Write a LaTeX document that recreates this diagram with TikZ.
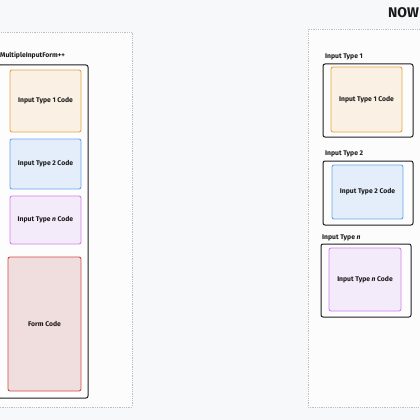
\documentclass[tikz,border=0pt]{standalone}
\usepackage{fontspec}
\setmainfont{Fira Sans}
\begin{document}
\begin{tikzpicture}[x=1pt,y=-1pt,
  every node/.style={font=\bfseries\fontsize{6.8}{7.5}\selectfont, text=black!90},
  container/.style={draw=black!25, densely dotted, line width=0.8pt, fill=white!60!bgcol},
  holder/.style={draw=black!88, line width=1pt, rounded corners=2pt, fill=white!70!bgcol},
  codebox/.style={line width=0.9pt, rounded corners=2pt},
  orangebox/.style={codebox, draw=orgb, fill=orgf},
  bluebox/.style={codebox, draw=blub, fill=bluf},
  purplebox/.style={codebox, draw=purb, fill=purf},
  redbox/.style={codebox, draw=redb, fill=redf},
  lbl/.style={anchor=west, inner sep=0pt}]
\definecolor{bgcol}{HTML}{F7F8FA}
\definecolor{orgb}{HTML}{E9A53F}
\definecolor{orgf}{HTML}{FAF0E4}
\definecolor{blub}{HTML}{6AA6EE}
\definecolor{bluf}{HTML}{E4EEFA}
\definecolor{purb}{HTML}{D580F0}
\definecolor{purf}{HTML}{F4EBFA}
\definecolor{redb}{HTML}{D04A48}
\definecolor{redf}{HTML}{F0DDDD}
\fill[bgcol] (0,0) rectangle (420,420);
\useasboundingbox (0,0) rectangle (420,420);
% left container
\draw[container] (-5,32) rectangle (132,407);
\node[lbl] (ltitle) at (0,55) {MultipleInputForm++};
\draw[holder] (-2,65) rectangle (88,398);
\node[orangebox, minimum width=71pt, minimum height=62pt] (l1) at (45.5,101) {Input Type 1 Code};
\node[bluebox, minimum width=71pt, minimum height=50pt] (l2) at (45.5,164) {Input Type 2 Code};
\node[purplebox, minimum width=71pt, minimum height=48pt] (l3) at (45.5,220) {Input Type \textit{n} Code};
\node[redbox, minimum width=73pt, minimum height=134pt] (l4) at (44.5,324) {Form Code};
% right container
\draw[container] (308,29) rectangle (425,407);
\node[lbl, font=\bfseries\fontsize{14}{16}\selectfont] (now) at (388,13) {NOW};
\node[lbl] (t1) at (325,57) {Input Type 1};
\node[holder, minimum width=90pt, minimum height=73pt] (h1) at (368,100.5) {};
\node[orangebox, minimum width=71pt, minimum height=65pt] (r1) at (366.5,99.5) {Input Type 1 Code};
\node[lbl] (t2) at (325,154) {Input Type 2};
\node[holder, minimum width=90pt, minimum height=64pt] (h2) at (368,193) {};
\node[bluebox, minimum width=71pt, minimum height=54pt] (r2) at (367.5,192) {Input Type 2 Code};
\node[lbl] (t3) at (322,238) {Input Type \textit{n}};
\node[holder, minimum width=90pt, minimum height=73pt] (h3) at (366,280.5) {};
\node[purplebox, minimum width=72pt, minimum height=63pt] (r3) at (365,279.5) {Input Type \textit{n} Code};
\end{tikzpicture}
\end{document}
